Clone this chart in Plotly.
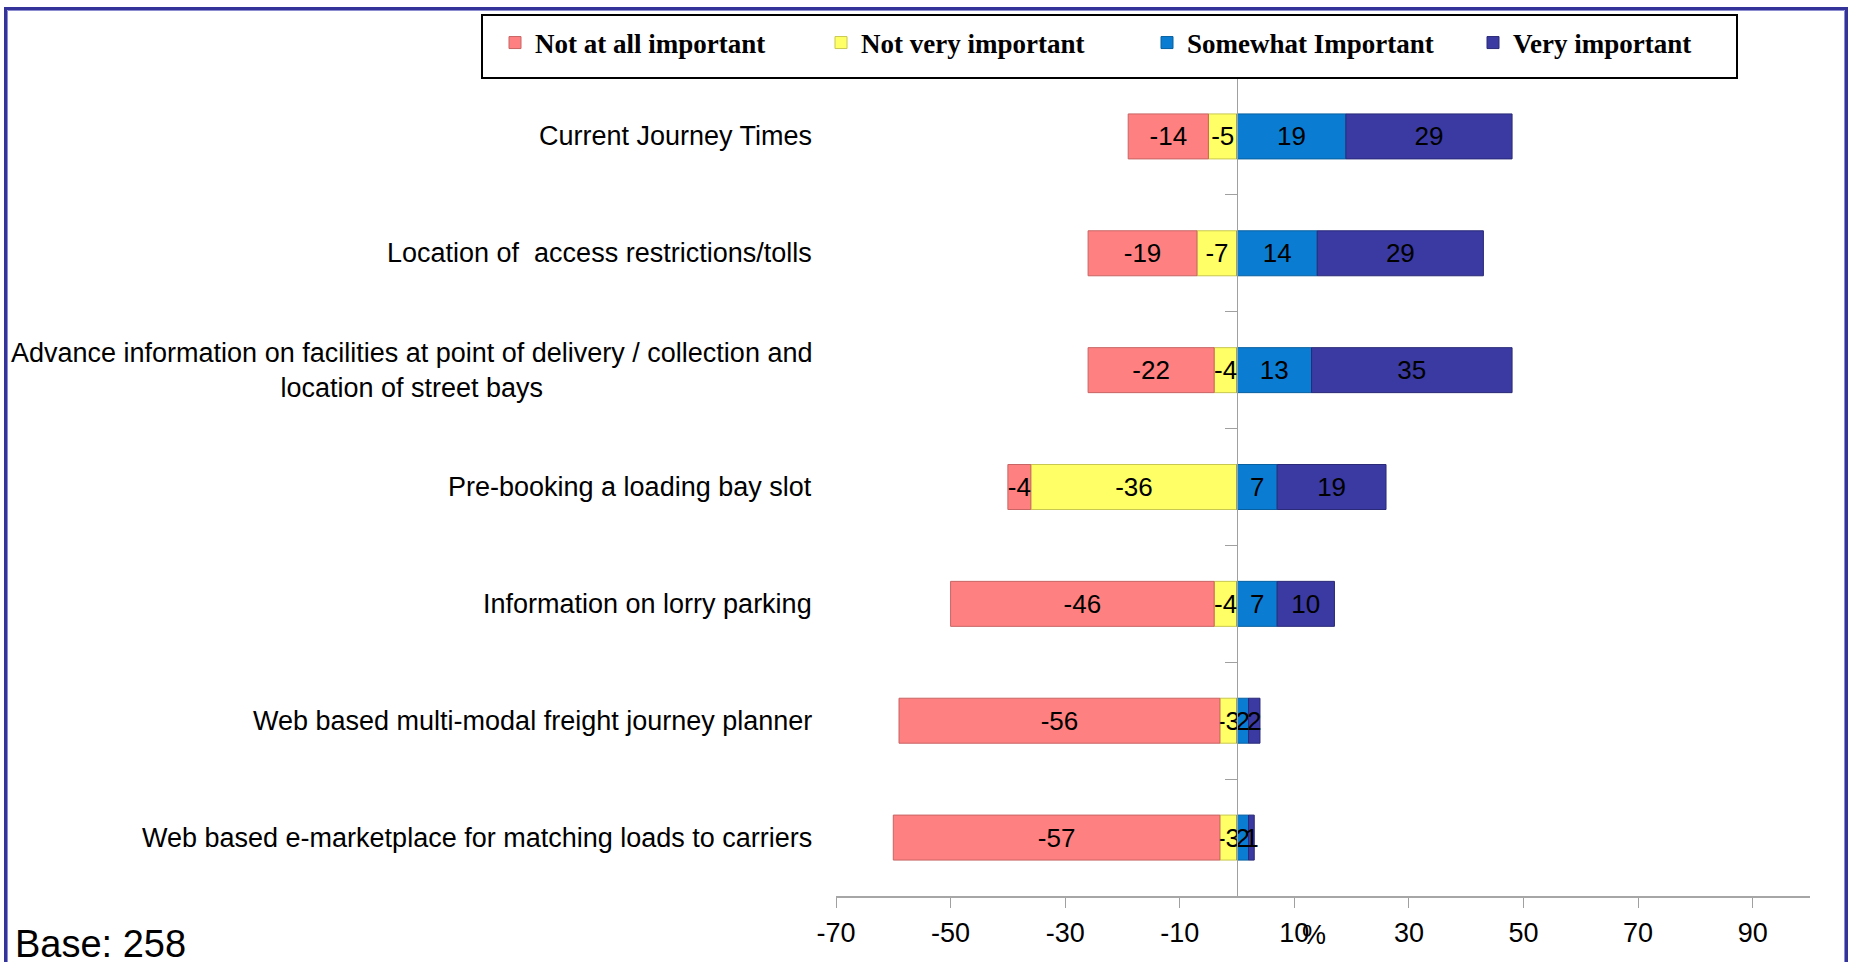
import plotly.graph_objects as go

# ---------------- data ----------------
categories = [
    "Current Journey Times",
    "Location of  access restrictions/tolls",
    "Advance information on facilities at point of delivery / collection and<br>location of street bays",
    "Pre-booking a loading bay slot",
    "Information on lorry parking",
    "Web based multi-modal freight journey planner",
    "Web based e-marketplace for matching loads to carriers",
]
not_at_all = [-14, -19, -22, -4, -46, -56, -57]
not_very = [-5, -7, -4, -36, -4, -3, -3]
somewhat = [19, 14, 13, 7, 7, 2, 2]
very = [29, 29, 35, 19, 10, 2, 1]
x_ticks = [-70, -50, -30, -10, 10, 30, 50, 70, 90]
x_range = [-70, 100]
series_names = ["Not at all important", "Not very important", "Somewhat Important", "Very important"]
base_note = "Base: 258"
x_title = "%"

# ---------------- geometry ----------------
W, H = 1856, 962
L, R, T, B = 836, 46, 78, 66
PW, PH = W - L - R, H - T - B


def px_x(px):
    return (px - L) / PW


def px_y(py):
    return 1 - (py - T) / PH


SANS = "Arial, Liberation Sans, sans-serif"
SERIF = "Times New Roman, Liberation Serif, serif"

fig = go.Figure()

# negatives stack outward from zero in trace order -> 'Not very' first
trace_specs = [
    (series_names[1], not_very, "#FFFF66", "#C8C850", 2),
    (series_names[0], not_at_all, "#FF8080", "#C86464", 1),
    (series_names[2], somewhat, "#0A7DD2", "#0860A0", 3),
    (series_names[3], very, "#3A3AA2", "#2A2A78", 4),
]
for name, vals, color, edge, rank in trace_specs:
    fig.add_trace(go.Bar(
        y=categories, x=vals, orientation="h", name=name,
        marker=dict(color=color, line=dict(color=edge, width=1)),
        text=[str(v) for v in vals], texttemplate="%{text}", textposition="inside",
        insidetextanchor="middle", textangle=0, constraintext="none",
        insidetextfont=dict(family=SANS, size=26, color="black"),
        legendrank=rank, cliponaxis=False, hoverinfo="x+name",
    ))

# dummy trace so the zero-line category axis is drawn
fig.add_trace(go.Scatter(x=[None], y=[None], yaxis="y2", showlegend=False, hoverinfo="skip"))

zero_pos = (0 - x_range[0]) / (x_range[1] - x_range[0])
n = len(categories)

fig.update_layout(
    width=W, height=H,
    margin=dict(l=L, r=R, t=T, b=B, pad=0, autoexpand=False),
    paper_bgcolor="white", plot_bgcolor="white",
    barmode="relative", bargap=0.615,
    font=dict(family=SANS, color="black"),
    xaxis=dict(
        range=x_range, tickvals=x_ticks, ticktext=[str(v) for v in x_ticks],
        ticks="outside", ticklen=10, automargin=False,
        tickcolor="#A0A0A0", tickwidth=1, showline=True, linecolor="#A6A6A6",
        linewidth=2, showgrid=False, zeroline=False,
        tickfont=dict(family=SANS, size=27, color="black"),
        ticklabelstandoff=2,
    ),
    yaxis=dict(
        categoryorder="array", categoryarray=categories, autorange="reversed",
        showticklabels=False, showgrid=False, zeroline=False, showline=False,
        range=[n - 0.5, -0.5], automargin=False,
    ),
    yaxis2=dict(
        overlaying="y", anchor="free", position=zero_pos, side="left",
        range=[n - 0.5, -0.5], tickvals=[i + 0.5 for i in range(n - 1)],
        ticks="outside", ticklen=12, tickcolor="#A0A0A0", showticklabels=False,
        showline=True, linecolor="#A0A0A0", linewidth=1, showgrid=False,
        zeroline=False, layer="above traces", automargin=False,
    ),
    legend=dict(
        orientation="h", x=px_x(495), y=px_y(43), xanchor="left", yanchor="middle",
        font=dict(family=SERIF, size=27, color="black", weight="bold"),
        bgcolor="rgba(0,0,0,0)", borderwidth=0,
        entrywidth=281, entrywidthmode="pixels", itemwidth=30,
    ),
    showlegend=True,
)

shapes = [
    # outer frame
    dict(type="rect", xref="paper", yref="paper",
         x0=px_x(5.5), x1=px_x(1846.5), y0=px_y(1100), y1=px_y(8.5),
         line=dict(color="#333399", width=3), fillcolor="rgba(0,0,0,0)", layer="below"),
    dict(type="rect", xref="paper", yref="paper",
         x0=px_x(7.5), x1=px_x(1844.5), y0=px_y(1100), y1=px_y(10.5),
         line=dict(color="#8C8CD0", width=1), fillcolor="rgba(0,0,0,0)", layer="below"),
    # legend box
    dict(type="rect", xref="paper", yref="paper",
         x0=px_x(482), x1=px_x(1737), y0=px_y(78), y1=px_y(15),
         line=dict(color="black", width=2), fillcolor="rgba(0,0,0,0)", layer="above"),
]
fig.update_layout(shapes=shapes)

annotations = []
for cat in categories:
    annotations.append(dict(
        xref="paper", yref="y", x=0, y=cat, xshift=-22, xanchor="right", yanchor="middle",
        text=cat, align="center", showarrow=False,
        font=dict(family=SANS, size=27, color="black"),
    ))
annotations.append(dict(
    xref="paper", yref="paper", x=0.5, xshift=-9, y=px_y(935), yanchor="middle",
    text=x_title, showarrow=False, font=dict(family=SANS, size=27, color="black"),
))
annotations.append(dict(
    xref="paper", yref="paper", x=px_x(13), y=px_y(921), xanchor="left", yanchor="top",
    text=base_note, showarrow=False, font=dict(family=SANS, size=38, color="black"),
))
fig.update_layout(annotations=annotations)

fig.write_html(
    "out.html",
    config={"displayModeBar": False},
    post_script="document.body.style.margin='0';document.body.style.overflow='hidden';",
)
